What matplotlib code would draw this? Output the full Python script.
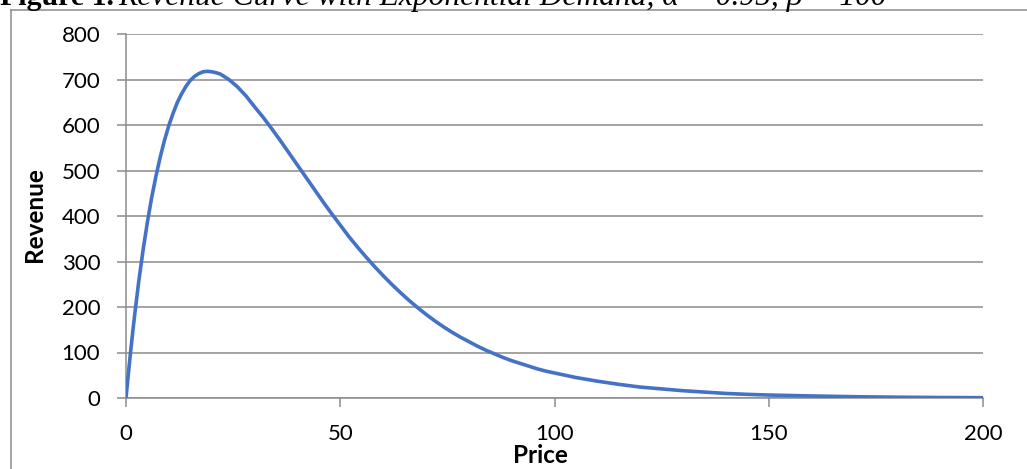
import matplotlib
matplotlib.use("Agg")
import matplotlib.pyplot as plt
from matplotlib.lines import Line2D

# valeurs
prix = [0, 0.5, 1, 1.5, 2, 3, 4, 5, 6, 7, 8, 9, 10, 11, 12, 13, 14, 15, 16, 17,
        18, 19, 20, 21, 22, 23, 24, 25, 26, 27, 28, 29, 30, 32, 34, 36, 38, 40,
        42, 44, 46, 48, 50, 52, 54, 56, 58, 60, 62, 64, 66, 68, 70, 72, 74, 76,
        78, 80, 82, 84, 86, 88, 90, 92, 94, 96, 98, 100, 105, 110, 115, 120,
        125, 130, 135, 140, 145, 150, 160, 170, 180, 190, 200]
revenu = [0, 48, 95, 139, 181, 258, 326, 387, 441, 488, 530, 567, 599, 626, 650,
          669, 685, 698, 707, 713, 717, 718, 717, 715, 712, 706, 700, 692, 684,
          674, 664, 652, 640, 617, 592, 566, 539, 512, 485, 458, 431, 405, 380,
          355, 332, 310, 289, 269, 250, 232, 215, 199, 184, 170, 157, 145, 134,
          124, 114, 105, 97, 89, 82, 76, 70, 64, 59, 55, 45, 37, 30, 24, 20, 16,
          13, 10, 8, 6.5, 4.5, 2.8, 1.8, 1.1, 0.7]
yticks = [0, 100, 200, 300, 400, 500, 600, 700, 800]
xticks = [0, 50, 100, 150, 200]

GRIS = "#8c8c8c"
BLEU = "#4472c4"
W, H = 1027, 469

fig = plt.figure(figsize=(W / 100, H / 100), dpi=100)
ax = fig.add_axes([126 / W, 1 - 398 / H, 857 / W, 364 / H])

ax.plot(prix, revenu, color=BLEU, lw=2.6, solid_capstyle="butt",
        solid_joinstyle="round", zorder=3)
ax.set_xlim(0, 200)
ax.set_ylim(0, 800)
ax.set_xticks(xticks)
ax.set_yticks(yticks)
ax.grid(axis="y", color=GRIS, lw=1.1)
ax.set_axisbelow(True)
for s in ["top", "right"]:
    ax.spines[s].set_visible(False)
for s in ["left", "bottom"]:
    ax.spines[s].set_color(GRIS)
    ax.spines[s].set_linewidth(1.1)
ax.tick_params(axis="both", color=GRIS, width=1.1, length=6.5, labelsize=16,
               labelcolor="black")
ax.tick_params(axis="y", pad=12)
ax.tick_params(axis="x", pad=12)
for lab in ax.get_xticklabels() + ax.get_yticklabels():
    lab.set_family("Lato")

# positions des titres d'axes, en pixels de l'original
ax.set_xlabel("Price", family="Lato", fontweight="bold", fontsize=17.5)
ax.xaxis.set_label_coords((540 - 126) / 857, -(444 - 398) / 364)
ax.set_ylabel("Revenue", family="Lato", fontweight="bold", fontsize=17.5)
ax.yaxis.set_label_coords(-(126 - 46) / 857, (398 - 215) / 364)

# cadre du graphique
fig.add_artist(Line2D([11 / W, 1], [1 - 10.5 / H] * 2, color=GRIS, lw=1.1))
fig.add_artist(Line2D([11 / W] * 2, [0, 1 - 10.5 / H], color=GRIS, lw=1.1))

# titre coupé en haut, comme dans l'original
t1 = fig.text(0.0, 1 - 5 / H, "Figure 1.", family="Liberation Serif",
              fontweight="bold", fontsize=21.5, va="baseline", ha="left")
fig.canvas.draw()
bb = t1.get_window_extent()
fig.text(bb.x1 / W + 4 / W, 1 - 5 / H,
         "Revenue Curve with Exponential Demand, α = 0.95, β = 100",
         family="Liberation Serif", style="italic", fontsize=22.7,
         va="baseline", ha="left")

fig.savefig("out.png", dpi=100)
